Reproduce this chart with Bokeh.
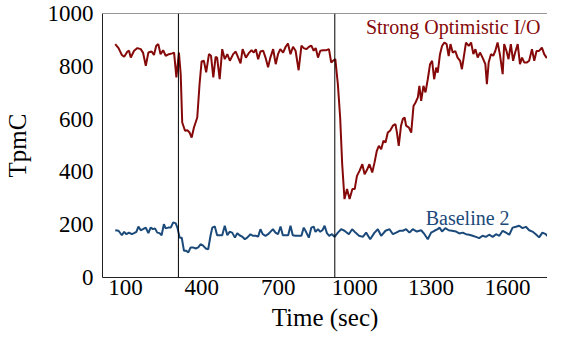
from bokeh.plotting import figure
from bokeh.models import Range1d, FixedTicker, Span, Label
from bokeh.embed import file_html
from bokeh.resources import INLINE

# --- data ---
red_t = [60, 73, 86, 95, 108, 114, 121, 134, 147, 160, 169, 180, 190, 203, 212, 221, 229, 238, 248, 258,
         271, 284, 291, 300, 310, 317, 323, 334, 343, 352, 360, 369, 382, 391, 399, 408, 417, 428, 436, 445,
         454, 460, 470, 480, 490, 500, 510, 523, 533, 552, 560, 573, 586, 595, 604, 612, 621, 630, 641, 650,
         660, 669, 680, 690, 699, 708, 719, 729, 738, 748, 758, 768, 780, 791, 800, 810, 821, 830, 839, 847,
         856, 865, 876, 889, 899, 908, 915, 924, 934, 943, 951, 960, 970, 980, 991, 1000, 1009, 1019, 1030,
         1039, 1048, 1058, 1069, 1078, 1087, 1095, 1104, 1113, 1121, 1130, 1139, 1150, 1160, 1166, 1173, 1182,
         1189, 1196, 1202, 1213, 1222, 1231, 1239, 1248, 1254, 1261, 1270, 1278, 1287, 1296, 1304, 1312, 1320,
         1326, 1335, 1343, 1352, 1361, 1369, 1376, 1385, 1395, 1404, 1414, 1421, 1431, 1437, 1448, 1457, 1466,
         1474, 1483, 1492, 1502, 1513, 1519, 1526, 1535, 1544, 1552, 1561, 1570, 1581, 1587, 1596, 1604, 1613,
         1622, 1630, 1640, 1649, 1657, 1666, 1675, 1685, 1696, 1705, 1714, 1724, 1735, 1744, 1753, 1764, 1774,
         1787]
red_v = [884, 869, 843, 836, 856, 859, 833, 859, 869, 865, 852, 802, 852, 856, 843, 878, 884, 846, 861, 840,
         846, 849, 852, 758, 852, 770, 587, 556, 558, 549, 530, 568, 606, 732, 818, 821, 777, 846, 840, 758,
         836, 833, 751, 865, 827, 846, 821, 846, 856, 811, 865, 833, 852, 861, 852, 865, 827, 856, 859, 833,
         796, 833, 865, 808, 846, 865, 852, 874, 886, 846, 874, 859, 785, 878, 869, 865, 874, 878, 859, 869,
         833, 859, 861, 861, 865, 814, 821, 827, 732, 606, 429, 297, 335, 297, 335, 335, 385, 404, 429,
         391, 407, 429, 398, 436, 480, 499, 486, 518, 511, 549, 556, 575, 581, 549, 499, 575,
         600, 606, 575, 568, 549, 650, 663, 682, 726, 669, 726, 701, 751, 808, 821, 751, 795,
         776, 846, 877, 890, 884, 839, 884, 852, 858, 833, 821, 789, 852, 890, 877, 890, 846,
         865, 833, 852, 833, 808, 732, 814, 846, 840, 858, 890, 846, 770, 884, 858, 827, 884,
         821, 852, 884, 808, 833, 814, 814, 821, 865, 821, 858, 858, 871, 846, 833, 836, 833,
         802]

blue_t = [60, 73, 86, 95, 104, 114, 125, 134, 143, 151, 160, 169, 180, 190, 199, 208, 216, 225, 234, 242,
          251, 258, 268, 278, 287, 297, 304, 313, 321, 330, 339, 347, 356, 365, 376, 386, 395, 404, 415, 425,
          434, 441, 451, 460, 470, 480, 490, 500, 509, 519, 530, 539, 548, 558, 569, 578, 591, 600, 611, 621,
          630, 639, 650, 660, 669, 679, 689, 699, 709, 718, 728, 739, 748, 757, 767, 780, 791, 800, 809, 820,
          830, 839, 846, 856, 865, 874, 882, 891, 900, 911, 921, 934, 947, 960, 977, 990, 1003, 1017, 1032,
          1045, 1061, 1078, 1091, 1104, 1121, 1137, 1150, 1163, 1176, 1189, 1202, 1215, 1228, 1244, 1261,
          1274, 1287, 1300, 1313, 1326, 1333, 1343, 1356, 1369, 1382, 1398, 1411, 1424, 1437, 1450, 1463,
          1476, 1489, 1502, 1515, 1528, 1542, 1555, 1568, 1581, 1594, 1607, 1620, 1633, 1646, 1659, 1672,
          1685, 1698, 1711, 1724, 1737, 1750, 1764, 1777, 1788]
blue_v = [179, 177, 160, 173, 164, 170, 164, 168, 173, 193, 179, 183, 189, 168, 189, 183, 186, 170, 168, 160,
          202, 186, 189, 189, 208, 206, 189, 151, 151, 101, 101, 95, 114, 114, 110, 114, 126, 122, 110, 107,
          158, 189, 193, 160, 160, 160, 196, 160, 173, 170, 151, 168, 160, 155, 145, 151, 164, 158, 158, 155,
          183, 164, 158, 164, 173, 183, 170, 164, 193, 160, 160, 160, 196, 160, 158, 158, 158, 189, 173, 151,
          189, 193, 173, 183, 173, 180, 196, 168, 158, 164, 154, 170, 183, 177, 164, 183, 170, 158, 154,
          170, 145, 170, 183, 158, 177, 183, 164, 170, 177, 177, 183, 170, 183, 174, 179,
          164, 145, 170, 177, 183, 189, 174, 187, 179, 177, 174, 167, 170, 164, 162, 158,
          154, 149, 158, 154, 162, 154, 164, 158, 177, 170, 162, 189, 192, 196, 187, 192,
          179, 174, 164, 152, 170, 164, 149, 164, 170]

event_times = [308, 922]
x_ticks = [100, 400, 700, 1000, 1300, 1600]
y_ticks = [0, 200, 400, 600, 800, 1000]

RED = "#860909"
BLUE = "#1b4a7a"
FONT = "Liberation Serif, Times New Roman, serif"

p = figure(width=547, height=333, output_backend="svg", toolbar_location=None,
           x_range=Range1d(10, 1757), y_range=Range1d(0, 1000),
           min_border_left=101, min_border_top=13, min_border_bottom=0, min_border_right=0)

p.xgrid.visible = False
p.ygrid.visible = False
p.outline_line_color = None
p.background_fill_color = "white"
p.border_fill_color = "white"

for ax in (p.xaxis[0], p.yaxis[0]):
    ax.major_tick_line_color = None
    ax.minor_tick_line_color = None
    ax.major_tick_out = 0
    ax.major_tick_in = 0
    ax.minor_tick_out = 0
    ax.minor_tick_in = 0
    ax.axis_line_color = "#222222"
    ax.major_label_text_font = FONT
    ax.major_label_text_font_size = "23px"
    ax.major_label_text_color = "black"
    ax.axis_label_text_font = FONT
    ax.axis_label_text_font_size = "25px"
    ax.axis_label_text_font_style = "normal"
    ax.axis_label_text_color = "black"

p.xaxis.ticker = FixedTicker(ticks=x_ticks)
p.yaxis.ticker = FixedTicker(ticks=y_ticks)
p.xaxis.axis_label = "Time (sec)"
p.yaxis.axis_label = "TpmC"
p.xaxis.major_label_standoff = 2
p.yaxis.major_label_standoff = 9
p.xaxis.axis_label_standoff = 6
p.yaxis.axis_label_standoff = 14

# top border of the plot box (the reference is cropped on the right)
p.add_layout(Span(location=1000, dimension="width", line_color="#333333", line_width=1))

for t in event_times:
    p.add_layout(Span(location=t, dimension="height", line_color="black", line_width=1))

p.line(red_t, red_v, line_color=RED, line_width=2)
p.line(blue_t, blue_v, line_color=BLUE, line_width=2)

p.add_layout(Label(x=1729, y=948, text="Strong Optimistic I/O", text_align="right",
                   text_baseline="alphabetic", text_font=FONT, text_font_size="20px",
                   text_color=RED))
p.add_layout(Label(x=1279, y=224, text="Baseline 2", text_align="left",
                   text_baseline="alphabetic", text_font=FONT, text_font_size="20px",
                   text_color=BLUE))

open("out.html", "w").write(file_html(p, INLINE))
